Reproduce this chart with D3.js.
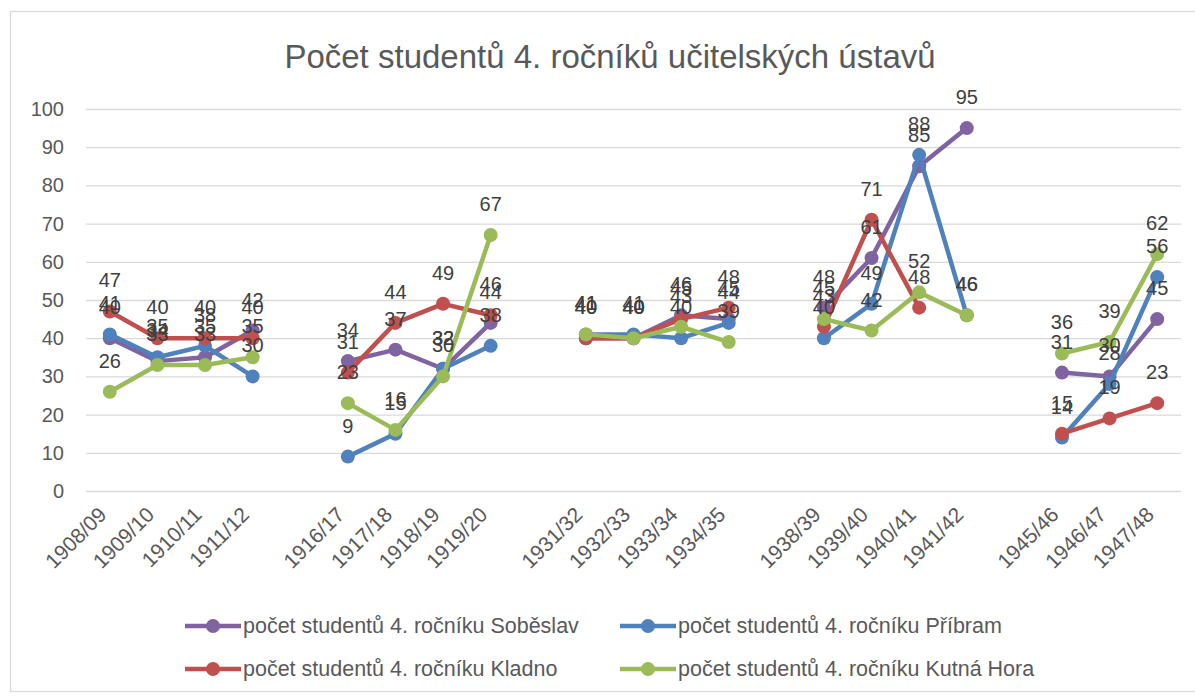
<!DOCTYPE html>
<html lang="cs">
<head>
<meta charset="utf-8">
<title>Počet studentů</title>
<script src="https://cdn.jsdelivr.net/npm/d3@7"></script>
<style>
  body { margin: 0; background: #fff; }
  svg text { font-family: "Liberation Sans", sans-serif; }
  .grid line { stroke: #d9d9d9; stroke-width: 1.3px; }
  .line { fill: none; stroke-width: 4.5px; stroke-linejoin: round; }
</style>
</head>
<body>
<svg width="1195" height="696"></svg>
<script>
// categories ("" = empty gap category)
var categories = ["1908/09", "1909/10", "1910/11", "1911/12", "",
                  "1916/17", "1917/18", "1918/19", "1919/20", "",
                  "1931/32", "1932/33", "1933/34", "1934/35", "",
                  "1938/39", "1939/40", "1940/41", "1941/42", "",
                  "1945/46", "1946/47", "1947/48"];

var sobeslav   = [40, 34, 35, 42, null, 34, 37, 32, 44, null, 40, 40, 46, 45, null, 48, 61, 85, 95, null, 31, 30, 45];
var pribram    = [41, 35, 38, 30, null,  9, 15, 32, 38, null, 41, 41, 40, 44, null, 40, 49, 88, 46, null, 14, 28, 56];
var kladno     = [47, 40, 40, 40, null, 31, 44, 49, 46, null, 40, 40, 45, 48, null, 43, 71, 48, null, null, 15, 19, 23];
var kutnaHora  = [26, 33, 33, 35, null, 23, 16, 30, 67, null, 41, 40, 43, 39, null, 45, 42, 52, 46, null, 36, 39, 62];

var seriesNames = ["počet studentů 4. ročníku Soběslav", "počet studentů 4. ročníku Příbram",
                   "počet studentů 4. ročníku Kladno", "počet studentů 4. ročníku Kutná Hora"];
var seriesColors = ["#8064a2", "#4f81bd", "#c0504d", "#9bbb59"];
var yTicks = [0, 10, 20, 30, 40, 50, 60, 70, 80, 90, 100];

var series = [sobeslav, pribram, kladno, kutnaHora].map(function(v, i) {
  return { name: seriesNames[i], color: seriesColors[i], values: v };
});

var svg = d3.select("svg");

// chart border
svg.append("rect")
  .attr("x", 10.5).attr("y", 11.5)
  .attr("width", 1190).attr("height", 680)
  .attr("fill", "none").attr("stroke", "#d9d9d9").attr("stroke-width", 1.3);

var x = d3.scaleBand()
  .domain(d3.range(categories.length))
  .range([86, 1181]);
var cx = function(i) { return x(i) + x.bandwidth() / 2; };

var y = d3.scaleLinear().domain([0, 100]).range([491, 109]);

// title
svg.append("text")
  .attr("x", 610).attr("y", 68)
  .attr("text-anchor", "middle")
  .attr("fill", "#595959")
  .style("font-size", "33px")
  .text("Počet studentů 4. ročníků učitelských ústavů");

// y axis + gridlines
var yAxis = svg.append("g")
  .attr("class", "grid")
  .attr("transform", "translate(86,0)")
  .call(d3.axisLeft(y).tickValues(yTicks).tickSize(-1095).tickPadding(22));
yAxis.select(".domain").remove();
yAxis.selectAll("text")
  .attr("fill", "#595959")
  .style("font-size", "20px");

// x axis labels
var xAxis = svg.append("g")
  .attr("transform", "translate(0,491)")
  .call(d3.axisBottom(x).tickSize(0).tickFormat(function(i) { return categories[i]; }));
xAxis.select(".domain").remove();
xAxis.selectAll(".tick")
  .attr("transform", function(i) { return "translate(" + (cx(i) - 2) + ",0)"; });
xAxis.selectAll("text")
  .attr("fill", "#595959")
  .style("font-size", "21px")
  .attr("text-anchor", "end")
  .attr("dy", null)
  .attr("y", 0)
  .attr("transform", "translate(0,25) rotate(-45)");

var line = d3.line()
  .defined(function(d) { return d != null; })
  .x(function(d, i) { return cx(i); })
  .y(function(d) { return y(d); });

var plot = svg.append("g");

series.forEach(function(s) {
  var g = plot.append("g");
  g.append("path")
    .datum(s.values)
    .attr("class", "line")
    .attr("stroke", s.color)
    .attr("d", line);
  g.selectAll("circle")
    .data(s.values.map(function(v, i) { return { v: v, i: i }; }).filter(function(d) { return d.v != null; }))
    .enter().append("circle")
    .attr("cx", function(d) { return cx(d.i); })
    .attr("cy", function(d) { return y(d.v); })
    .attr("r", 7)
    .attr("fill", s.color);
});

// data labels
var labels = svg.append("g");
series.forEach(function(s) {
  labels.selectAll(null)
    .data(s.values.map(function(v, i) { return { v: v, i: i }; }).filter(function(d) { return d.v != null; }))
    .enter().append("text")
    .attr("x", function(d) { return cx(d.i); })
    .attr("y", function(d) { return y(d.v) - 24; })
    .attr("text-anchor", "middle")
    .attr("fill", "#404040")
    .style("font-size", "20px")
    .text(function(d) { return d.v; });
});

// legend
var legendPos = [[185, 626], [620, 626], [185, 669], [620, 669]];
series.forEach(function(s, i) {
  var lg = svg.append("g").attr("transform", "translate(" + legendPos[i][0] + "," + legendPos[i][1] + ")");
  lg.append("line")
    .attr("x1", 0).attr("x2", 56)
    .attr("stroke", s.color).attr("stroke-width", 4.5);
  lg.append("circle").attr("cx", 28).attr("r", 7).attr("fill", s.color);
  lg.append("text")
    .attr("x", 58).attr("y", 7)
    .attr("fill", "#595959")
    .style("font-size", "21.5px")
    .text(s.name);
});
</script>
</body>
</html>
